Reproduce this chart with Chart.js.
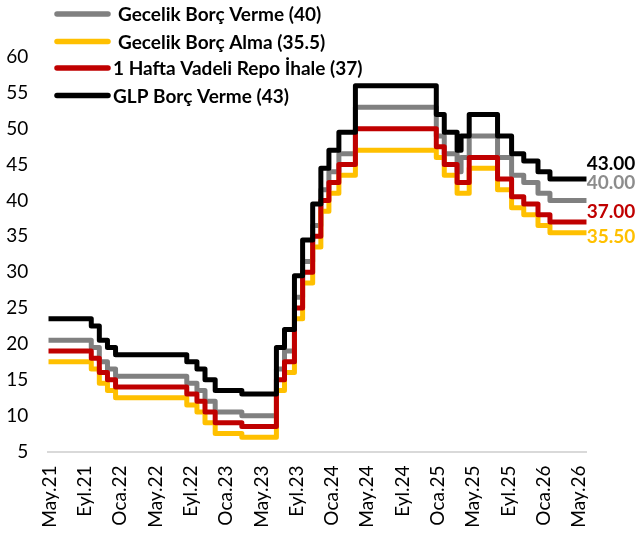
<!DOCTYPE html>
<html><head><meta charset="utf-8">
<script src="https://cdn.jsdelivr.net/npm/chart.js@4.4.1/dist/chart.umd.min.js"></script>
<style>html,body{margin:0;padding:0;background:#fff}#wrap{width:636px;height:535px}</style>
</head><body><div id="wrap"><canvas id="c" width="636" height="535"></canvas></div>
<script>
// ---- data ----
const tickLabels = ['May.21','Eyl.21','Oca.22','May.22','Eyl.22','Oca.23','May.23','Eyl.23','Oca.24','May.24','Eyl.24','Oca.25','May.25','Eyl.25','Oca.26','May.26'];
const axisStart = '2021-04-27';
const axisEnd = '2026-05-27';
const changeDates = ['2021-04-27','2021-09-23','2021-10-21','2021-11-18','2021-12-16','2022-08-18','2022-09-22','2022-10-20','2022-11-24','2023-02-23','2023-06-22','2023-07-20','2023-08-24','2023-09-21','2023-10-26','2023-11-23','2023-12-21','2024-01-25','2024-03-21','2024-12-26','2025-01-23','2025-03-06','2025-03-20','2025-04-17','2025-07-24','2025-09-11','2025-10-23','2025-12-11','2026-01-22','2026-05-27'];
const gecelikBorcVerme = [20.5,19.5,17.5,16.5,15.5,14.5,13.5,12,10.5,10,16.5,19,26.5,31.5,36.5,41.5,44,46.5,53,49,46.5,44,46,49,46,43.5,42.5,41,40,40];
const gecelikBorcAlma  = [17.5,16.5,14.5,13.5,12.5,11.5,10.5,9,7.5,7,13.5,16,23.5,28.5,33.5,38.5,41,43.5,47,46,43.5,41,41,44.5,41.5,39,38,36.5,35.5,35.5];
const haftalikRepo     = [19,18,16,15,14,13,12,10.5,9,8.5,15,17.5,25,30,35,40,42.5,45,50,47.5,45,42.5,42.5,46,43,40.5,39.5,38,37,37];
const glpBorcVerme     = [23.5,22.5,20.5,19.5,18.5,17.5,16.5,15,13.5,13,19.5,22,29.5,34.5,39.5,44.5,47,49.5,56,52,49.5,47,49,52,49,46.5,45.5,44,43,43];
const seriesNames = ['Gecelik Borç Verme (40)','Gecelik Borç Alma (35.5)','1 Hafta Vadeli Repo İhale (37)','GLP Borç Verme (43)'];
const lastLabels = ['40.00','35.50','37.00','43.00'];
const yTicks = [5,10,15,20,25,30,35,40,45,50,55,60];

// ---- helpers ----
function monthIndex(s){
  const p = s.split('-').map(Number);
  const dim = new Date(p[0], p[1], 0).getDate();
  return (p[0]-2021)*12 + (p[1]-5) + (p[2]-1)/dim;
}
function pts(arr){ return changeDates.map((d,i)=>({x: monthIndex(d), y: arr[i]})); }

const FONT = 'Lato';
const colors = ['#808080','#FFC000','#C00000','#000000'];
const labelColors = ['#8C8C8C','#FFC000','#C00000','#000000'];
const labelDy = [-11.9, 10.2, -4, -9.4];
const legendY = [14, 41.5, 68, 95.5];
const legendTextX = [118, 118, 113, 113];

const overlay = {
  id: 'overlay',
  afterDatasetsDraw(chart){
    const ctx = chart.ctx;
    ctx.save();
    // end labels
    ctx.font = 'bold 19px ' + FONT;
    ctx.textAlign = 'left';
    ctx.textBaseline = 'alphabetic';
    chart.data.datasets.forEach((ds, i) => {
      const meta = chart.getDatasetMeta(i);
      const p = meta.data[meta.data.length - 1];
      ctx.fillStyle = labelColors[i];
      ctx.fillText(lastLabels[i], p.x, p.y + labelDy[i]);
    });
    // legend
    chart.data.datasets.forEach((ds, i) => {
      ctx.strokeStyle = ds.borderColor;
      ctx.lineWidth = 5.5;
      ctx.lineCap = 'round';
      ctx.beginPath();
      ctx.moveTo(57, legendY[i]);
      ctx.lineTo(108, legendY[i]);
      ctx.stroke();
      ctx.fillStyle = '#000';
      ctx.textBaseline = 'middle';
      ctx.fillText(ds.label, legendTextX[i], legendY[i] + 1);
    });
    ctx.restore();
  }
};

const datasets = [gecelikBorcVerme, gecelikBorcAlma, haftalikRepo, glpBorcVerme].map((arr, i) => ({
  label: seriesNames[i],
  data: pts(arr),
  borderColor: colors[i],
  backgroundColor: colors[i],
  borderWidth: 5,
  pointRadius: 0,
  stepped: true,
  fill: false,
  borderJoinStyle: 'round',
  order: 3 - i
}));

new Chart(document.getElementById('c'), {
  type: 'line',
  data: { datasets },
  options: {
    responsive: false,
    devicePixelRatio: 1,
    animation: false,
    layout: { padding: { left: 0, right: 49.3, top: 57, bottom: 0 } },
    plugins: { legend: { display: false }, tooltip: { enabled: false } },
    scales: {
      x: {
        type: 'linear',
        min: monthIndex(axisStart),
        max: monthIndex(axisEnd),
        afterBuildTicks(scale){ scale.ticks = tickLabels.map((_, i) => ({ value: i * 4 })); },
        afterFit(scale){ scale.height = 83.5; },
        grid: { display: false, drawTicks: false },
        border: { display: true, color: '#D9D9D9', width: 2 },
        ticks: {
          autoSkip: false, minRotation: 90, maxRotation: 90, padding: 14,
          color: '#000', font: { family: FONT, size: 19 },
          callback: (v) => tickLabels[Math.round(v / 4)]
        }
      },
      y: {
        min: 5, max: 60,
        afterBuildTicks(scale){ scale.ticks = yTicks.map(v => ({ value: v })); },
        afterFit(scale){ scale.width = 48.3; },
        grid: { display: false, drawTicks: false },
        border: { display: false },
        ticks: { padding: 20, color: '#000', font: { family: FONT, size: 19 } }
      }
    }
  },
  plugins: [overlay]
});
</script>
</body></html>
